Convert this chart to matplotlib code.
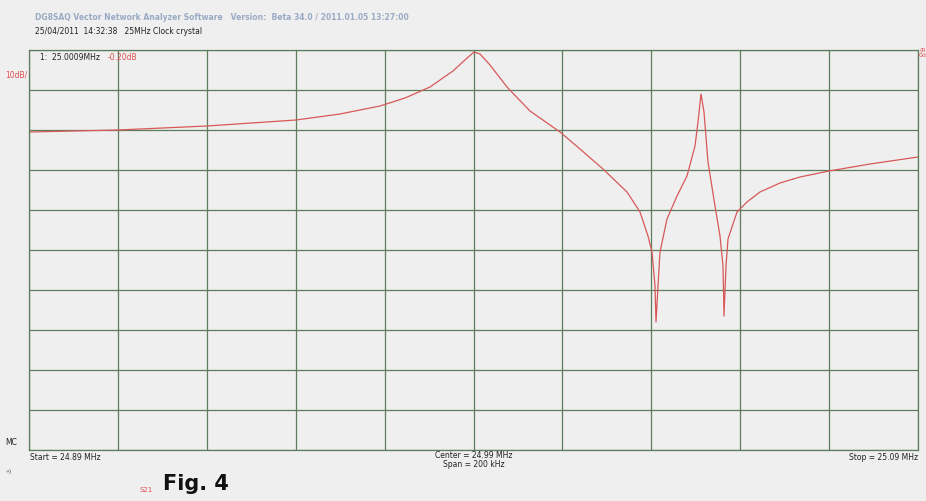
import matplotlib.pyplot as plt
import numpy as np

# trace S21 of the 25 MHz crystal
freq_px = [29, 118, 207, 296, 340, 380, 405, 430, 453, 466, 474, 480, 490, 507, 530,
           560, 580, 603, 627, 640, 648, 652, 655, 656, 658, 660, 667, 677, 687, 695,
           698, 701, 704, 708, 715, 720, 723, 724, 726, 728, 737, 747, 760, 780, 800,
           829, 870, 918]
level_px = [133, 131, 127, 121, 115, 107, 99, 88, 72, 60, 53, 55, 66, 88, 112,
            133, 150, 170, 193, 213, 237, 253, 287, 323, 287, 253, 220, 197, 177, 147,
            123, 95, 113, 163, 207, 237, 267, 317, 267, 240, 213, 203, 193, 184, 178,
            172, 165, 158]

start_mhz = 24.89
stop_mhz = 25.09
freq = [start_mhz + (p - 29) / 889 * (stop_mhz - start_mhz) for p in freq_px]
level = [-(p - 51) / 4 for p in level_px]

bg = '#efefef'
grid_c = '#5d7d5d'
trace_c = '#d85858'

fig = plt.figure(figsize=(9.26, 5.02), dpi=100, facecolor=bg)
ax = fig.add_axes([29 / 926, 51 / 502, 889 / 926, 400 / 502], facecolor=bg)

ax.plot(freq, level, color=trace_c, lw=0.9)
ax.set_xlim(start_mhz, stop_mhz)
ax.set_ylim(-100, 0)
ax.set_xticks(np.linspace(start_mhz, stop_mhz, 11))
ax.set_yticks(np.linspace(-100, 0, 11))
ax.grid(True, color=grid_c, lw=0.9)
ax.tick_params(length=0, labelbottom=False, labelleft=False)
for s in ax.spines.values():
    s.set_color(grid_c)
    s.set_linewidth(0.9)

# header
fig.text(35 / 926, 1 - 18 / 502,
         'DG8SAQ Vector Network Analyzer Software   Version:  Beta 34.0 / 2011.01.05 13:27:00',
         fontsize=5.5, color='#9aaac4', va='center', fontweight='bold')
fig.text(35 / 926, 1 - 32 / 502, '25/04/2011  14:32:38   25MHz Clock crystal',
         fontsize=5.5, color='#222222', va='center')
fig.text(40 / 926, 1 - 57 / 502, '1:  25.0009MHz', fontsize=5.5, color='#222222', va='center')
fig.text(108 / 926, 1 - 57 / 502, '-0.20dB', fontsize=5.5, color='#e05050', va='center')
fig.text(5 / 926, 1 - 75 / 502, '10dB/', fontsize=5.5, color='#e05050', va='center')
fig.text(919 / 926, 1 - 53 / 502, '(R\n0d', fontsize=4.5, color='#e05050', va='center',
         linespacing=1.0)

# footer
fig.text(5 / 926, 1 - 443 / 502, 'MC', fontsize=5.5, color='#222222', va='center')
fig.text(30 / 926, 1 - 458 / 502, 'Start = 24.89 MHz', fontsize=5.5, color='#222222', va='center')
fig.text(474 / 926, 1 - 456 / 502, 'Center = 24.99 MHz', fontsize=5.5, color='#222222',
         va='center', ha='center')
fig.text(474 / 926, 1 - 465 / 502, 'Span = 200 kHz', fontsize=5.5, color='#222222',
         va='center', ha='center')
fig.text(918 / 926, 1 - 458 / 502, 'Stop = 25.09 MHz', fontsize=5.5, color='#222222',
         va='center', ha='right')
fig.text(5 / 926, 1 - 472 / 502, '«)', fontsize=4.5, color='#555555', va='center')
fig.text(140 / 926, 1 - 490 / 502, 'S21', fontsize=5, color='#e05050', va='center')
fig.text(163 / 926, 1 - 484 / 502, 'Fig. 4', fontsize=15, fontweight='bold',
         color='#111111', va='center')

fig.savefig('out.png', dpi=100, facecolor=bg)
